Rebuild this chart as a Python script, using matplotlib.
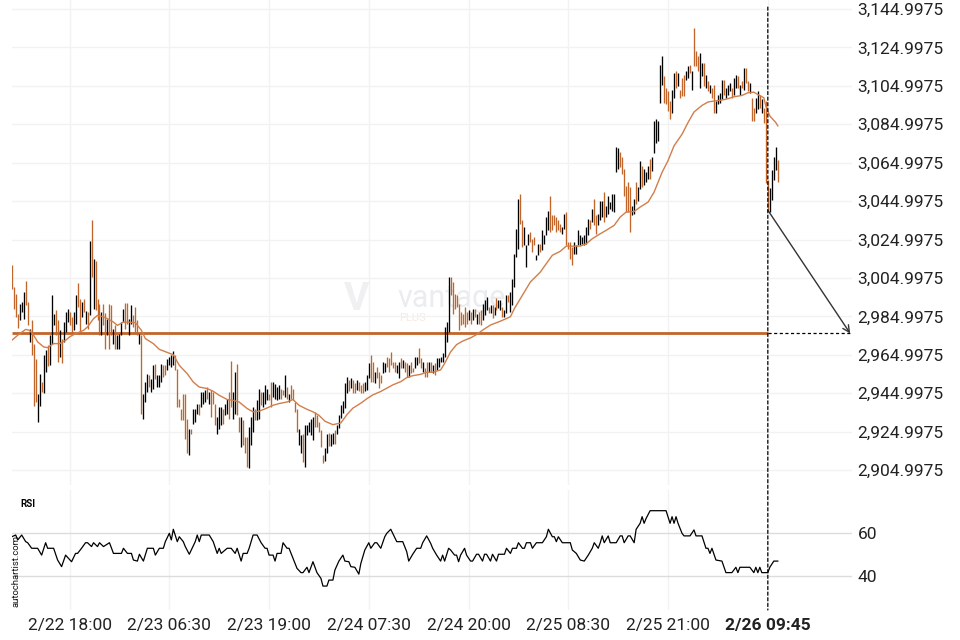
import matplotlib
matplotlib.use("Agg")
import matplotlib.pyplot as plt
from matplotlib.patches import ConnectionPatch

plt.rcParams['font.family'] = ['Roboto', 'DejaVu Sans']

# 15-minute bars, high / low and direction (u = up/black, d = down/orange)
highs = [
    3011.5, 3000.2, 2996.8, 2986.4, 2991.6, 2992.4, 2997.6, 3003.4, 2992.4, 2978.6,
    2982.9, 2970.8, 2963.0, 2944.8, 2955.2, 2950.9, 2965.1, 2967.3, 2969.9, 2975.1,
    2996.3, 2986.4, 2988.1, 2982.9, 2977.7, 2973.4, 2982.0, 2987.2, 2989.0, 2987.2,
    2984.7, 2987.2, 2995.9, 3002.3, 2994.2, 2992.4, 2994.2, 2987.6, 2987.2, 3024.0,
    3035.4, 3015.0, 3013.6, 2994.2, 2991.6, 2987.2, 2991.6, 2986.9, 2983.8, 2991.6,
    2990.7, 2978.6, 2980.3, 2975.5, 2976.0, 2982.0, 2989.0, 2991.9, 2991.9, 2983.8,
    2990.7, 2985.5, 2989.8, 2982.9, 2976.0, 2975.5, 2944.8, 2950.9, 2955.2, 2954.3,
    2952.6, 2959.5, 2960.4, 2954.3, 2954.3, 2960.4, 2959.5,
    2959.5, 2963.0, 2963.8, 2964.7, 2966.7, 2964.7, 2957.7, 2942.2, 2937.0, 2944.8,
    2944.8, 2931.8, 2926.6, 2926.6, 2937.0, 2937.0, 2939.6, 2939.6, 2945.6, 2945.6,
    2946.5, 2948.2, 2945.6, 2946.5, 2945.6, 2939.6, 2932.7, 2937.9, 2937.9, 2937.0,
    2939.6, 2942.2, 2945.6, 2961.5, 2945.6, 2956.0, 2960.3, 2932.7, 2932.7, 2930.9,
    2922.3, 2922.3, 2927.5, 2932.7, 2937.9, 2937.0, 2941.3, 2947.0, 2945.6, 2945.6,
    2949.1, 2947.0, 2944.8, 2950.8, 2950.8, 2950.0, 2948.2, 2949.1, 2947.4, 2946.5,
    2954.3, 2948.2, 2944.8, 2949.1, 2947.4, 2940.4, 2937.0, 2926.6, 2923.2, 2924.0,
    2928.3, 2928.3, 2930.1, 2931.8, 2932.7, 2935.3, 2933.5, 2930.1, 2925.8, 2912.8,
    2916.6, 2923.5, 2924.3, 2923.5, 2924.3, 2926.0, 2928.6, 2933.8, 2939.0, 2940.7,
    2950.2, 2953.6, 2951.9, 2952.8, 2951.9, 2950.2, 2951.9, 2951.0, 2949.3, 2950.2,
    2951.0, 2954.5, 2960.5, 2964.8, 2961.4, 2956.2, 2958.8, 2956.2, 2954.5, 2961.4,
    2960.5, 2964.0, 2963.1, 2966.2, 2961.4, 2961.4, 2959.7, 2961.4, 2963.1, 2962.2,
    2961.4, 2960.5, 2959.7, 2961.4, 2957.9, 2964.0, 2964.0, 2968.3, 2963.1, 2961.4,
    2957.9, 2961.4, 2961.4, 2961.4, 2959.7, 2960.5, 2963.1, 2963.1, 2964.0, 2965.7,
    2979.5, 2982.1, 3005.3, 3005.3, 3002.8, 2996.7, 2995.9, 2991.5, 2987.2, 2986.4,
    2989.8, 2987.2, 2988.1, 2987.2, 2989.0, 2989.0, 2986.4, 2987.2, 2988.1, 2991.5,
    2993.4, 2995.2, 2990.0, 2990.8, 2990.8, 2990.0, 2994.3, 2993.4, 2993.4, 2990.0,
    2988.2, 2996.0, 2996.0, 2997.8, 3004.7, 3017.6, 3030.6, 3046.2, 3048.8, 3035.0,
    3031.5, 3022.0, 3028.0, 3028.9, 3025.4, 3026.3, 3016.8, 3022.8, 3022.8, 3029.8,
    3027.2, 3036.7, 3040.1, 3047.9, 3037.6, 3037.6, 3036.7, 3035.0, 3033.2, 3031.5,
    3038.4, 3039.3, 3023.7, 3023.7, 3021.1, 3023.7, 3022.0, 3029.8, 3027.2, 3026.3,
    3027.2, 3031.5, 3035.8, 3035.0, 3041.0, 3046.2, 3037.6, 3038.4, 3045.3, 3045.3,
    3049.7, 3042.7, 3047.9, 3044.5, 3048.8, 3048.8, 3073.0, 3072.5, 3070.4, 3067.8,
    3061.8, 3053.1, 3054.9, 3052.2, 3042.7, 3046.2, 3054.9, 3052.2, 3066.1, 3063.5,
    3061.7, 3060.0, 3063.5, 3066.9, 3067.8, 3086.7, 3087.6, 3086.7, 3116.0, 3120.4,
    3110.0, 3104.0, 3102.3, 3097.1, 3103.1, 3111.7, 3112.6, 3111.7, 3103.1, 3109.2,
    3110.9, 3112.6, 3115.2, 3116.1, 3112.6, 3135.0, 3123.0, 3120.4, 3122.1, 3116.9,
    3116.9, 3110.9, 3107.4, 3105.7, 3104.0, 3105.7, 3097.1, 3100.5, 3101.4, 3108.3,
    3108.3, 3104.0, 3105.7, 3106.6, 3104.0, 3109.2, 3110.9, 3110.0, 3105.7, 3107.4,
    3114.3, 3114.3, 3107.4, 3106.6, 3098.8, 3093.6, 3098.8, 3102.3, 3100.5, 3097.9,
    3093.6, 3097.0, 3056.0, 3051.8, 3061.2, 3067.9, 3073.1, 3066.4,
]
lows = [
    2999.4, 2988.6, 2984.7, 2978.9, 2982.9, 2987.2, 2983.8, 2990.7, 2980.3, 2971.7,
    2964.7, 2938.4, 2940.5, 2930.1, 2938.4, 2945.7, 2945.3, 2956.1, 2959.2, 2959.5,
    2970.8, 2980.3, 2975.1, 2961.3, 2963.9, 2960.9, 2971.7, 2976.9, 2982.0, 2980.3,
    2976.0, 2977.7, 2981.2, 2989.8, 2976.9, 2984.7, 2987.2, 2981.2, 2978.6, 2985.5,
    3005.4, 2989.0, 2988.1, 2982.9, 2975.1, 2975.1, 2980.3, 2968.2, 2975.1, 2968.2,
    2975.1, 2970.8, 2968.2, 2968.2, 2968.2, 2975.1, 2982.0, 2978.6, 2981.2, 2975.1,
    2981.2, 2979.5, 2976.9, 2975.1, 2970.8, 2934.4, 2931.8, 2940.5, 2945.7, 2948.3,
    2945.7, 2947.4, 2952.6, 2948.3, 2948.3, 2950.9, 2953.5,
    2954.3, 2956.9, 2959.5, 2958.6, 2959.5, 2956.9, 2937.9, 2937.9, 2931.0, 2931.0,
    2921.4, 2913.6, 2912.8, 2924.0, 2929.2, 2930.1, 2934.4, 2933.5, 2937.9, 2939.6,
    2940.4, 2942.2, 2939.6, 2932.7, 2939.6, 2928.3, 2924.0, 2926.6, 2928.3, 2929.2,
    2933.5, 2934.4, 2931.8, 2937.9, 2931.8, 2934.4, 2933.5, 2924.9, 2917.1, 2918.0,
    2913.6, 2906.7, 2905.9, 2918.0, 2924.9, 2931.0, 2931.0, 2931.8, 2938.7, 2937.9,
    2939.6, 2941.3, 2941.3, 2937.9, 2943.0, 2942.2, 2941.3, 2942.2, 2942.2, 2943.9,
    2943.0, 2942.2, 2940.4, 2942.2, 2941.3, 2935.3, 2924.9, 2918.0, 2913.6, 2909.3,
    2906.7, 2923.2, 2924.9, 2923.2, 2920.6, 2927.5, 2927.5, 2924.9, 2917.1, 2908.5,
    2909.7, 2914.0, 2917.4, 2917.4, 2918.3, 2918.3, 2923.5, 2926.9, 2932.1, 2934.7,
    2937.2, 2945.0, 2945.9, 2947.6, 2945.0, 2945.0, 2946.7, 2945.9, 2945.0, 2945.0,
    2945.9, 2946.7, 2952.8, 2951.0, 2951.0, 2950.2, 2952.8, 2947.6, 2950.2, 2955.3,
    2956.2, 2958.8, 2956.2, 2959.7, 2957.9, 2956.2, 2955.3, 2952.8, 2957.9, 2957.9,
    2956.2, 2953.6, 2953.6, 2955.3, 2956.2, 2957.9, 2959.7, 2960.5, 2957.9, 2956.2,
    2953.6, 2953.6, 2956.2, 2956.2, 2955.3, 2954.5, 2957.1, 2958.8, 2961.4, 2961.4,
    2964.0, 2971.7, 2976.9, 2995.9, 2986.4, 2989.0, 2989.8, 2977.8, 2980.3, 2981.2,
    2979.5, 2981.2, 2982.9, 2981.2, 2982.9, 2984.7, 2981.2, 2981.2, 2980.3, 2982.9,
    2985.7, 2988.2, 2986.5, 2986.5, 2983.9, 2985.7, 2988.2, 2989.1, 2988.2, 2984.8,
    2984.8, 2986.5, 2992.6, 2987.4, 2990.8, 3000.4, 3015.9, 3020.3, 3033.2, 3021.1,
    3022.0, 3010.7, 3022.0, 3023.7, 3018.5, 3022.0, 3014.2, 3016.8, 3018.5, 3019.4,
    3022.8, 3027.2, 3029.8, 3028.9, 3029.8, 3032.4, 3028.9, 3029.8, 3028.9, 3028.0,
    3030.6, 3022.0, 3020.3, 3015.1, 3011.6, 3017.7, 3017.7, 3022.0, 3022.0, 3022.8,
    3022.0, 3022.8, 3027.2, 3030.6, 3034.1, 3032.4, 3028.0, 3032.4, 3035.0, 3036.7,
    3034.1, 3036.7, 3038.4, 3041.0, 3040.1, 3039.3, 3060.0, 3061.8, 3062.6, 3059.2,
    3047.9, 3039.3, 3039.3, 3028.9, 3037.6, 3038.4, 3043.6, 3045.3, 3051.4, 3052.2,
    3053.2, 3054.9, 3056.6, 3056.6, 3060.9, 3070.0, 3075.5, 3076.4, 3096.0, 3105.7,
    3096.2, 3095.4, 3091.9, 3087.6, 3091.1, 3098.8, 3104.0, 3104.8, 3098.8, 3099.7,
    3099.7, 3108.3, 3109.2, 3111.7, 3103.1, 3115.2, 3115.2, 3112.6, 3104.0, 3110.0,
    3104.8, 3104.0, 3102.3, 3101.4, 3098.8, 3091.1, 3091.1, 3095.4, 3096.2, 3098.0,
    3100.5, 3098.8, 3100.5, 3102.3, 3098.8, 3100.5, 3104.0, 3104.0, 3100.5, 3104.0,
    3103.1, 3106.6, 3102.3, 3101.4, 3086.7, 3086.7, 3091.1, 3092.8, 3093.6, 3091.1,
    3085.9, 3054.4, 3040.3, 3039.3, 3045.5, 3056.0, 3061.2, 3054.9,
]
dirs = "".join([
    "dddduuuddu", "ddduuduudu", "uudduduuud", "duuddududu", "duddduddud",
    "duduuuuddu", "uddduduuud", "uuduuud",
    "duuuuddddd", "dduduuuduu", "ududdduuud", "uudduuddud", "dduuuduudu",
    "uudduuuudd", "ududddduud", "uuuuuddddd",
    "uuduuduuuu", "uududduddd", "uuuddudddu", "uddddduudu", "ddudduuddu",
    "ddududuuuu", "uuuddddddd", "ddudududdu",
    "uudududuud", "uuduuuuudd", "uuuddduudu", "uuuddddddu", "udddduuuuu",
    "uuududduuu", "duuuuuuudd", "dddduuduud",
    "uuuduuuuuu", "dddduududd", "duududdduu", "dududduuuu", "duuuduudud",
    "uddudduudu", "ddduuuud",
])

# moving average
ma_idx = [0, 4, 7, 9, 11, 13, 16, 18, 21, 24, 27, 29, 32, 36, 38, 41, 43, 46, 48, 51,
          53, 56, 59, 62, 65, 67, 71, 74, 81, 84, 88, 91, 94, 98, 101, 104, 108, 111,
          114, 118, 121, 124, 128, 131, 134, 138, 141, 144, 148, 151, 154, 157, 161,
          165, 168, 171, 175, 178, 181, 185, 188, 191, 195, 198, 201, 205, 208, 211,
          215, 217, 220, 223, 226, 230, 233, 236, 240, 245, 250, 252, 256, 260, 265,
          268, 271, 275, 278, 282, 285, 288, 291, 295, 298, 302, 305, 308, 312, 315,
          319, 322, 326, 329, 332, 336, 339, 342, 346, 349, 352, 356, 359, 362, 366,
          369, 372, 374, 377, 378, 380, 383, 384]
ma_val = [2972.5, 2976.0, 2978.2, 2977.7, 2975.1, 2971.7, 2969.1, 2968.7, 2970.8, 2970.8,
          2972.5, 2974.3, 2976.0, 2977.7, 2979.5, 2983.8, 2985.5, 2984.7, 2983.8, 2982.0,
          2980.3, 2982.0, 2982.0, 2981.7, 2977.7, 2973.4, 2970.8, 2967.8, 2965.0, 2959.5,
          2955.1, 2950.8, 2948.2, 2947.4, 2946.0, 2943.9, 2941.7, 2941.3, 2940.4, 2937.0,
          2935.3, 2935.6, 2937.3, 2938.7, 2939.6, 2940.4, 2941.7, 2938.7, 2936.6, 2935.3,
          2933.5, 2930.4, 2928.6, 2929.5, 2933.8, 2937.2, 2939.8, 2942.1, 2944.1, 2945.9,
          2947.6, 2949.3, 2951.0, 2953.1, 2954.1, 2954.8, 2955.9, 2955.9, 2957.1, 2960.5,
          2966.5, 2970.3, 2972.1, 2973.8, 2975.5, 2977.8, 2980.5, 2982.5, 2984.8, 2989.1,
          2996.0, 3002.9, 3008.1, 3012.5, 3016.8, 3018.9, 3021.6, 3021.5, 3021.6, 3022.8,
          3025.4, 3028.0, 3029.8, 3032.4, 3036.7, 3039.3, 3039.6, 3041.9, 3044.5, 3049.7,
          3060.0, 3066.1, 3073.8, 3079.8, 3085.9, 3091.4, 3094.8, 3096.6, 3097.1, 3097.6,
          3098.3, 3099.3, 3100.0, 3101.4, 3101.7, 3100.5, 3098.8, 3094.5, 3089.3, 3085.9,
          3084.2]

# RSI
rsi_idx = [0, 2, 3, 5, 7, 8, 10, 13, 15, 17, 18, 21, 23, 25, 27, 30, 32, 33, 35, 37,
           38, 40, 41, 43, 44, 46, 49, 51, 55, 56, 58, 60, 61, 63, 64, 66, 68, 71, 72, 74,
           76, 77, 79, 80, 81, 83, 84, 86, 87, 89, 92, 93, 94, 95, 99, 101, 103, 104, 105,
           108, 110, 112, 113, 115, 116, 118, 119, 120, 121, 123, 125, 127, 128, 129, 131,
           132, 133, 135, 136, 138, 139, 141, 143, 145, 146, 148, 149, 151, 153, 155,
           156, 158, 159, 161, 162, 164, 166, 167, 169, 170, 172, 174, 175, 177, 179, 180,
           182, 183, 185, 187, 188, 190, 191, 193, 196, 198, 199, 201, 203, 205, 206, 208,
           210, 211, 213, 215, 216, 217, 219, 220, 222, 223, 224, 225, 227, 228, 230, 231,
           233, 234, 236, 237, 238, 240, 241, 243, 244, 247, 248, 250, 251, 253, 254, 256,
           257, 258, 260, 261, 263, 266, 268, 269, 271, 272, 273, 274, 276, 280, 281, 283,
           285, 287, 289, 291, 292, 294, 295, 296, 297, 299, 300, 303, 305, 306, 307, 309,
           310, 312, 313, 315,
           316, 317, 318, 320, 328, 330, 331, 332, 333, 334, 336, 337, 340, 342, 343, 346,
           348, 349, 350, 351, 353, 356, 358, 361, 363, 364, 365, 370, 372, 373, 374, 375,
           376, 379, 380, 382, 384]
rsi_val = [58.4, 59.2, 56.9, 59.2, 56.1, 55.6, 53.0, 53.0, 49.8, 55.6, 53.0, 53.0, 47.5,
           44.4, 49.8, 46.7, 50.6, 50.6, 53.0, 55.6, 55.6, 53.8, 55.6, 53.8, 55.6, 53.8,
           55.6, 50.6, 50.6, 53.0, 50.6, 50.6, 47.5, 47.0, 50.2, 47.0, 53.0, 53.0, 49.8,
           53.0, 53.0, 56.1, 60.0, 56.9, 61.9, 56.1, 58.4, 56.1, 53.8, 50.2, 56.1, 59.2,
           56.1, 59.2, 59.2, 56.1, 50.6, 53.0, 50.6, 53.0, 53.0, 50.6, 53.0, 47.0, 50.6,
           50.6, 53.0, 56.1, 59.2, 59.2, 55.6, 53.0, 53.0, 49.8, 49.8, 47.0, 50.6, 50.6,
           55.6, 53.0, 53.0, 48.3, 43.6, 41.6, 41.6, 44.1, 41.6, 46.7, 41.6, 38.9,
           35.3, 35.3, 38.1, 38.1, 42.8, 47.0, 49.8, 47.0, 46.7, 44.4, 44.1, 40.9, 45.9,
           52.2, 55.6, 53.0, 55.6, 55.6, 53.0, 58.4, 60.0, 61.9, 60.0, 56.1, 56.1, 51.4,
           47.0, 50.2, 53.0, 53.0, 55.6, 58.8, 55.3, 53.0, 49.8, 47.0, 49.8, 47.0, 53.0,
           52.2, 49.8, 49.8, 46.7, 49.8, 53.0, 49.8, 47.0, 47.0, 50.2, 50.2, 47.0, 50.2,
           50.2, 47.0, 50.2, 47.0, 50.2, 50.2, 53.0, 50.6, 53.0, 53.0, 55.6, 53.0, 53.0,
           55.6, 55.6, 53.0, 55.6, 55.6, 58.4, 61.9, 58.4, 58.4, 56.1, 58.4, 55.6, 55.6,
           52.2, 50.6, 47.5, 47.0, 49.8, 53.0, 55.6, 53.0, 55.6, 58.8, 55.6, 58.8, 55.6,
           55.6, 58.8, 58.8, 55.6, 58.8, 58.8, 55.6, 61.9, 64.7,
           67.8, 64.7, 67.0, 70.6, 70.6, 64.7, 67.8, 64.7, 67.8, 64.7, 60.0, 58.8, 58.8,
           61.6, 58.8, 58.8, 53.0, 53.0, 50.6, 53.0, 47.5, 47.0, 41.6, 41.6, 44.1, 41.6,
           44.1, 44.1, 41.6, 44.1, 41.6, 44.1, 41.6, 41.6, 44.1, 47.0, 47.0]

support_level = 2976.1
signal_idx = 379
target_idx = 420.3
price_ticks = [2904.9975 + 20 * i for i in range(13)]
x_ticks = [29, 79, 129, 179, 229, 279, 329, 379]
x_labels = ["2/22 18:00", "2/23 06:30", "2/23 19:00", "2/24 07:30",
            "2/24 20:00", "2/25 08:30", "2/25 21:00", "2/26 09:45"]

ORANGE = '#c2652a'
GRID = '#f2f2f2'

fig = plt.figure(figsize=(9.6, 6.4), dpi=100)
ax1 = fig.add_axes([0.012, 0.2422, 0.8755, 0.7578])
ax2 = fig.add_axes([0.012, 0.0469, 0.8755, 0.1875])

xs = list(range(len(highs)))
colors = ['black' if d == 'u' else ORANGE for d in dirs]

# watermark
ax1.text(0.41, 0.383, "V", transform=ax1.transAxes, fontsize=28, fontweight='bold',
         color='#eef0f1', ha='center', va='center', zorder=0)
ax1.text(0.459, 0.385, "vantage", transform=ax1.transAxes, fontsize=22,
         color='#eaedee', ha='left', va='center', zorder=0)
ax1.text(0.461, 0.345, "PLUS", transform=ax1.transAxes, fontsize=8,
         color='#f7e9e0', ha='left', va='center', zorder=0)

ax1.vlines(xs, lows, highs, colors=colors, linewidth=0.95, zorder=3)
ax1.plot(ma_idx, ma_val, color='#d07e4b', linewidth=1.0, zorder=4)
ax1.hlines(support_level, -0.1, signal_idx, color=ORANGE, linewidth=2.0, zorder=2)
ax1.hlines(support_level, signal_idx, target_idx + 1.2, color='black',
           linewidth=0.9, linestyles=(0, (2.5, 2)), zorder=5)
ax1.annotate('', xy=(target_idx, support_level), xytext=(signal_idx, lows[signal_idx]),
             arrowprops=dict(arrowstyle='->', color='#333333', lw=1.0,
                             mutation_scale=12, shrinkA=0, shrinkB=0), zorder=6)

ax1.set_xlim(-0.1, 421.2)
ax1.set_ylim(2897.2, 3149.7)
ax1.set_yticks(price_ticks)
ax1.set_yticklabels(['{:,.4f}'.format(v) for v in price_ticks])
ax1.yaxis.tick_right()
ax1.set_xticks(x_ticks)
ax1.tick_params(axis='x', length=0, labelbottom=False)
ax1.tick_params(axis='y', length=0, pad=4, labelsize=12.5, labelcolor='#222222')
ax1.grid(True, color=GRID, linewidth=1)
for s in ax1.spines.values():
    s.set_visible(False)

# RSI panel
ax2.plot(rsi_idx, rsi_val, color='black', linewidth=0.9, zorder=3)
ax2.set_xlim(-0.1, 421.2)
ax2.set_ylim(24.1, 80.3)
ax2.set_yticks([40, 60])
ax2.yaxis.tick_right()
ax2.set_xticks(x_ticks)
ax2.set_xticklabels(x_labels)
ax2.tick_params(axis='both', length=0, labelsize=12.5, labelcolor='#222222')
ax2.tick_params(axis='y', pad=4)
ax2.tick_params(axis='x', pad=6)
ax2.get_xticklabels()[-1].set_fontweight('bold')
ax2.grid(True, axis='x', color=GRID, linewidth=1)
ax2.grid(True, axis='y', color='#dcdcdc', linewidth=1)
for s in ax2.spines.values():
    s.set_visible(False)

fig.text(20 / 960, 1 - 504 / 640, "RSI", fontsize=7, fontweight='bold', va='center')
fig.text(16 / 960, 1 - 571 / 640, "autochartist.com", fontsize=6.8, rotation=90,
         ha='center', va='center', color='#111111')

# dashed signal line through both panels
con = ConnectionPatch(xyA=(signal_idx, 3146.0), coordsA=ax1.transData,
                      xyB=(signal_idx, 24.1), coordsB=ax2.transData,
                      color='black', linewidth=0.9, linestyle=(0, (2.5, 2)), zorder=7)
fig.add_artist(con)

fig.savefig('out.png', dpi=100)
